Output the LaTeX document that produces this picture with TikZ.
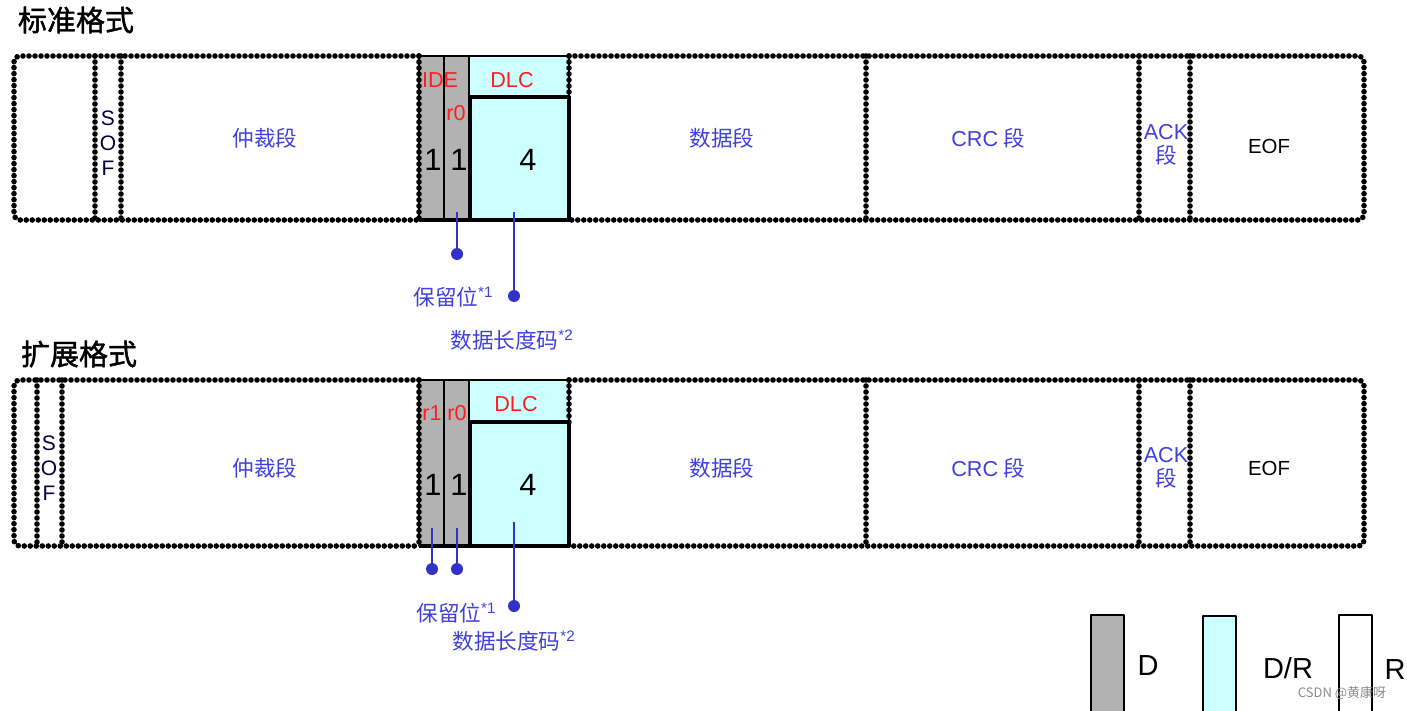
\documentclass[tikz,border=0pt]{standalone}
\usepackage{fontspec}
\setmainfont{Liberation Sans}
\newfontfamily\cjk{Noto Sans CJK SC}
\newfontfamily\cjkbold[FakeBold=1.5]{Noto Sans CJK SC}
\definecolor{lblue}{RGB}{64,64,220}
\definecolor{fred}{RGB}{255,30,30}
\definecolor{dlccyan}{RGB}{204,255,255}
\definecolor{idegray}{RGB}{178,178,178}
\definecolor{ptrblue}{RGB}{50,50,200}
\tikzset{
  frame/.style={line width=2.8pt, dash pattern=on 0pt off 3pt, line cap=round},
  field/.style={font=\cjk\fontsize{10.8pt}{12pt}\selectfont, text=lblue},
  bits/.style={font=\fontsize{10.8pt}{12pt}\selectfont, text=fred, inner sep=0pt},
  num/.style={font=\fontsize{15.4pt}{16pt}\selectfont, inner sep=0pt},
  note/.style={font=\cjk\fontsize{10.8pt}{12pt}\selectfont, text=lblue, anchor=west, inner sep=0pt},
  title/.style={font=\cjkbold\fontsize{14.5pt}{16pt}\selectfont, inner sep=0pt},
  dotnode/.style={circle, fill=ptrblue, inner sep=0pt, minimum size=6pt},
  ptr/.style={draw=ptrblue, line width=1.1pt},
  legend/.style={font=\fontsize{14.5pt}{16pt}\selectfont, inner sep=0pt}
}
\newcommand{\starnote}[1]{\textsuperscript{\rmfamily *#1}}
\begin{document}
\begin{tikzpicture}[x=0.5pt, y=-0.5pt, line join=round]
	\useasboundingbox (0,0) rectangle (1407,711);
	% standard frame
	\node[title] (std) at (76,20) {标准格式};
	\fill[idegray] (419,56) rectangle (469,220);
	\draw[line width=0.6pt] (419,56) rectangle (444,220) (444,56) rectangle (469,220);
	\filldraw[fill=dlccyan, line width=0.6pt] (469,56) rectangle (569,97);
	\filldraw[fill=dlccyan, line width=2pt] (470,97) rectangle (569,220);
	\draw[line width=2.2pt] (419,220) -- (570,220);
	\draw[frame, rounded corners=3] (419,56) -- (14,56) -- (14,220) -- (419,220);
	\draw[frame, rounded corners=3] (569,56) -- (1364,56) -- (1364,220) -- (569,220);
	\foreach \x in {95,121,419,866,1139,1190}
		\draw[frame] (\x,56) -- (\x,220);
	\draw[frame] (569,56) -- (569,97);
	\node[font=\fontsize{10.5pt}{12.5pt}\selectfont, align=center, text=black!75!blue, inner sep=0pt] (sof1) at (108,143) {S\\O\\F};
	\node[field] (arb1) at (265,138) {仲裁段};
	\node[bits] (ide1) at (440,80) {IDE};
	\node[bits] (r01) at (456,113) {r0};
	\node[bits] (dlc1) at (512,80) {DLC};
	\node[num] (n11) at (433,160) {1};
	\node[num] (n21) at (459,160) {1};
	\node[num] (n31) at (528,160) {4};
	\node[field] (data1) at (722,138) {数据段};
	\node[field] (crc1) at (988,138) {{\rmfamily CRC} 段};
	\node[field, align=center, inner sep=0pt] (ack1) at (1166,145) {{\rmfamily ACK}\\段};
	\node[font=\fontsize{10.2pt}{12pt}\selectfont] (eof1) at (1269,146) {EOF};
	\coordinate (p1) at (457,212);
	\coordinate (p2) at (514,212);
	\node[dotnode] (d1) at (457,254) {};
	\node[dotnode] (d2) at (514,296) {};
	\draw[ptr] (p1) -- (d1);
	\draw[ptr] (p2) -- (d2);
	\node[note] (res1) at (413,297) {保留位\starnote{1}};
	\node[note] (len1) at (450,340) {数据长度码\starnote{2}};
	% extended frame
	\node[title] (ext) at (79,354) {扩展格式};
	\fill[idegray] (419,380) rectangle (469,546);
	\draw[line width=0.6pt] (419,380) rectangle (444,546) (444,380) rectangle (469,546);
	\filldraw[fill=dlccyan, line width=0.6pt] (469,380) rectangle (569,422);
	\filldraw[fill=dlccyan, line width=2pt] (470,422) rectangle (569,546);
	\draw[line width=2.2pt] (419,546) -- (570,546);
	\draw[frame, rounded corners=3] (419,380) -- (14,380) -- (14,546) -- (419,546);
	\draw[frame, rounded corners=3] (569,380) -- (1364,380) -- (1364,546) -- (569,546);
	\foreach \x in {37,62,419,866,1139,1190}
		\draw[frame] (\x,380) -- (\x,546);
	\draw[frame] (569,380) -- (569,422);
	\node[font=\fontsize{10.5pt}{12.5pt}\selectfont, align=center, text=black!75!blue, inner sep=0pt] (sof2) at (49,468) {S\\O\\F};
	\node[field] (arb2) at (265,468) {仲裁段};
	\node[bits] (r12) at (432,413) {r1};
	\node[bits] (r02) at (457,413) {r0};
	\node[bits] (dlc2) at (516,404) {DLC};
	\node[num] (n12) at (433,485) {1};
	\node[num] (n22) at (459,485) {1};
	\node[num] (n32) at (528,485) {4};
	\node[field] (data2) at (722,468) {数据段};
	\node[field] (crc2) at (988,468) {{\rmfamily CRC} 段};
	\node[field, align=center, inner sep=0pt] (ack2) at (1166,468) {{\rmfamily ACK}\\段};
	\node[font=\fontsize{10.2pt}{12pt}\selectfont] (eof2) at (1269,468) {EOF};
	\coordinate (q1) at (432,528);
	\coordinate (q2) at (457,528);
	\coordinate (q3) at (514,522);
	\node[dotnode] (e1) at (432,569) {};
	\node[dotnode] (e2) at (457,569) {};
	\node[dotnode] (e3) at (514,606) {};
	\draw[ptr] (q1) -- (e1);
	\draw[ptr] (q2) -- (e2);
	\draw[ptr] (q3) -- (e3);
	\node[note] (res2) at (416,613) {保留位\starnote{1}};
	\node[note] (len2) at (452,641) {数据长度码\starnote{2}};
	% legend
	\filldraw[fill=idegray, line width=1pt] (1091,712) -- (1091,615) -- (1124,615) -- (1124,712);
	\filldraw[fill=dlccyan, line width=1pt] (1203,712) -- (1203,616) -- (1236,616) -- (1236,712);
	\draw[line width=1pt] (1339,712) -- (1339,615) -- (1372,615) -- (1372,712);
	\node[legend] (lgd) at (1148,666) {D};
	\node[legend] (lgdr) at (1288,668) {D/R};
	\node[legend] (lgr) at (1395,670) {R};
	\node[font=\cjk\fontsize{6.5pt}{7pt}\selectfont, text=black!45] (mark) at (1342,693) {CSDN @黄康呀};
\end{tikzpicture}
\end{document}
